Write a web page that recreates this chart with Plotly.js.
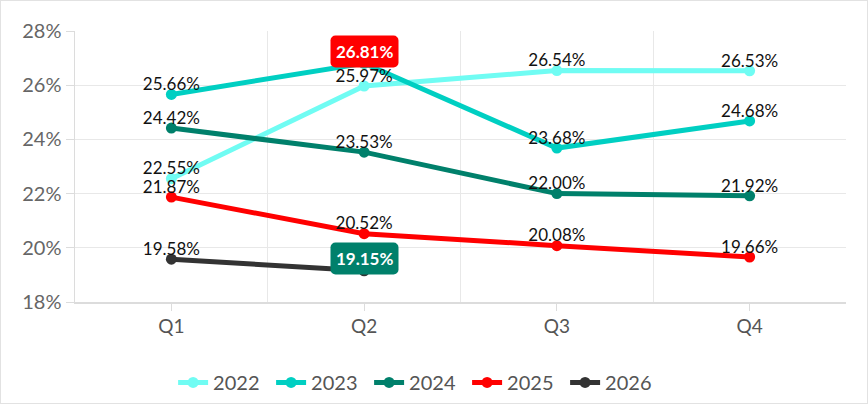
<!DOCTYPE html>
<html>
<head>
<meta charset="utf-8">
<script src="https://cdn.plot.ly/plotly-3.0.1.min.js"></script>
<style>
  html, body { margin: 0; padding: 0; background: #fff; }
  #chart { width: 866px; height: 402px; border: 1px solid #e2e2e2; }
</style>
</head>
<body>
<div id="chart"></div>
<script>
var quarters = ['Q1', 'Q2', 'Q3', 'Q4'];
var years = ['2022', '2023', '2024', '2025', '2026'];
var colors = ['#70fcf3', '#00cfc2', '#00806b', '#ff0000', '#333333'];

var v2022 = [22.55, 25.97, 26.54, 26.53];
var v2023 = [25.66, 26.81, 23.68, 24.68];
var v2024 = [24.42, 23.53, 22.00, 21.92];
var v2025 = [21.87, 20.52, 20.08, 19.66];
var v2026 = [19.58, 19.15];

var series = [v2022, v2023, v2024, v2025, v2026];

// overall max and min get a coloured badge instead of a plain label
var maxP = null, minP = null;
series.forEach(function (s, i) {
  s.forEach(function (v, j) {
    if (!maxP || v > maxP.v) maxP = {v: v, s: i, q: j};
    if (!minP || v < minP.v) minP = {v: v, s: i, q: j};
  });
});

var fontFam = 'Lato, "Open Sans", sans-serif';

var lines = series.map(function (s, i) {
  return {
    x: s.map(function (v, j) { return j; }),
    y: s,
    name: years[i],
    type: 'scatter',
    mode: 'lines+markers',
    line: {color: colors[i], width: 5},
    marker: {color: colors[i], size: 11},
    cliponaxis: false,
    hoverinfo: 'none'
  };
});

var labels = series.map(function (s, i) {
  return {
    x: s.map(function (v, j) { return j; }),
    y: s,
    type: 'scatter',
    mode: 'text',
    showlegend: false,
    text: s.map(function (v, j) {
      if ((maxP.s === i && maxP.q === j) || (minP.s === i && minP.q === j)) return '';
      return v.toFixed(2) + '%';
    }),
    textposition: 'top center',
    textfont: {family: fontFam, size: 17, color: '#111'},
    cliponaxis: false,
    hoverinfo: 'none'
  };
});

function badge(p, bg) {
  return {
    x: p.q, y: p.v, xref: 'x', yref: 'y',
    text: '<b>' + p.v.toFixed(2) + '%</b>',
    showarrow: false,
    yshift: 12,
    bgcolor: bg,
    borderpad: 5,
    font: {family: fontFam, size: 17, color: '#fff'}
  };
}

var layout = {
  width: 866,
  height: 402,
  margin: {l: 74, r: 21, t: 30, b: 101, autoexpand: false},
  paper_bgcolor: '#fff',
  plot_bgcolor: '#fff',
  showlegend: true,
  legend: {
    orientation: 'h',
    x: 0.445, xanchor: 'center',
    y: -0.225, yanchor: 'top',
    font: {family: fontFam, size: 20, color: '#555'},
    entrywidth: 53,
    entrywidthmode: 'pixels'
  },
  xaxis: {
    range: [-0.5, 3.5],
    tickmode: 'array',
    tickvals: [0, 1, 2, 3],
    ticktext: quarters,
    showgrid: false,
    zeroline: false,
    showline: true,
    linecolor: '#dcdcdc',
    linewidth: 1.5,
    ticks: 'outside',
    ticklen: 7,
    tickcolor: '#dcdcdc',
    tickfont: {family: fontFam, size: 19, color: '#555'},
    minor: {
      tickmode: 'array',
      tickvals: [0.5, 1.5, 2.5],
      showgrid: true,
      gridcolor: '#e8e8e8',
      gridwidth: 1,
      ticks: ''
    }
  },
  yaxis: {
    range: [18, 28],
    dtick: 2,
    ticksuffix: '%',
    showgrid: true,
    gridcolor: '#e8e8e8',
    zeroline: false,
    showline: true,
    linecolor: '#dcdcdc',
    linewidth: 1.5,
    ticks: 'outside',
    ticklen: 8,
    tickcolor: '#dcdcdc',
    tickfont: {family: fontFam, size: 20, color: '#666'}
  },
  annotations: [badge(maxP, '#ff0000'), badge(minP, '#00806b')]
};

Plotly.newPlot('chart', lines.concat(labels), layout, {displayModeBar: false, staticPlot: true}).then(function () {
  document.querySelectorAll('#chart .annotation rect.bg').forEach(function (r) {
    r.setAttribute('rx', 5);
    r.setAttribute('ry', 5);
  });
});
</script>
</body>
</html>
